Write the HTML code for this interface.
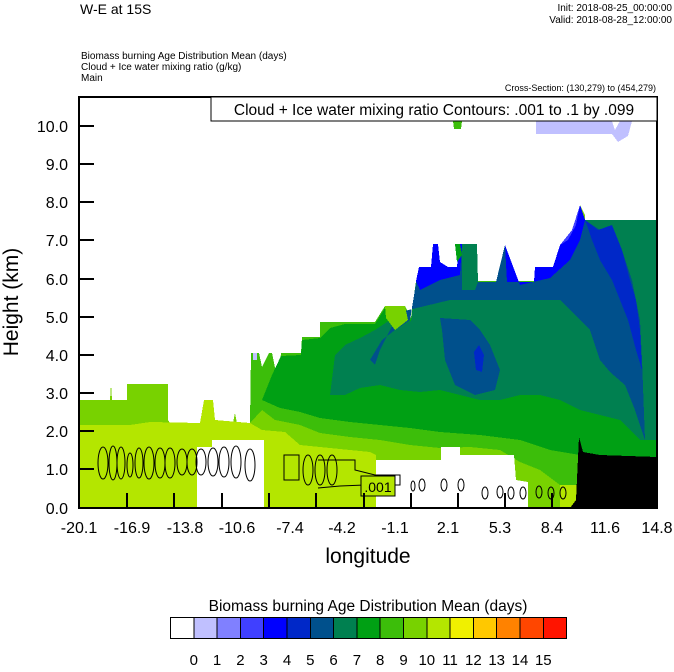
<!DOCTYPE html>
<html><head><meta charset="utf-8"><style>
body{margin:0;background:#fff;width:674px;height:667px;overflow:hidden}
svg{font-family:"Liberation Sans",Arial,sans-serif}
</style></head><body>
<svg width="674" height="667" viewBox="0 0 674 667" xmlns="http://www.w3.org/2000/svg">
<text x="80" y="14" font-size="14">W-E at 15S</text>
<text x="672" y="11" font-size="10" text-anchor="end">Init: 2018-08-25_00:00:00</text>
<text x="672" y="23" font-size="10" text-anchor="end">Valid: 2018-08-28_12:00:00</text>
<text x="81" y="59" font-size="10">Biomass burning Age Distribution Mean   (days)</text>
<text x="81" y="70" font-size="10">Cloud + Ice water mixing ratio   (g/kg)</text>
<text x="81" y="81" font-size="10">Main</text>
<text x="656" y="91" font-size="9" text-anchor="end">Cross-Section: (130,279) to (454,279)</text>

<g shape-rendering="crispEdges">
<polygon fill="#78d200" points="79,400 110,400 111,384 112,400 127,400 127,384 168,384 168,420 170,423 204,423 204,400 213,400 215,420 233,423 235,413 237,423 250,423 251,353 259,353 262,367 269,353 272,353 278,382 281,353 301,353 302,337 320,337 320,322 335,322 336,330 341,322 375,322 385,306 405,306 411,318 416,281 419,267 431,267 433,244 438,244 440,262 448,267 457,267 459,244 477,244 478,282 496,282 505,245 507,282 534,282 535,267 553,267 560,245 572,230 580,205 585,215 585,220 657,220 657,508 79,508"/>
<polygon fill="#b4e600" points="79,425 130,425 150,422 200,423 204,400 213,400 215,420 250,423 262,430 285,432 300,445 330,448 370,452 376,455 376,508 79,508"/>
<polygon fill="#3cbe0a" points="250,423 251,353 259,353 262,367 269,353 272,353 278,382 281,353 301,353 302,337 320,337 320,322 375,322 385,306 405,306 411,318 416,281 657,281 657,508 600,508 580,500 560,485 540,470 520,462 500,450 470,447 440,448 410,445 380,440 350,437 320,433 300,425 275,420 262,410"/>
<polygon fill="#00a014" points="262,400 272,375 281,356 301,355 302,340 320,338 330,328 345,324 375,324 385,308 405,308 411,320 416,283 657,283 657,465 620,470 600,462 580,455 550,450 520,440 480,435 440,432 410,428 380,425 350,422 320,418 300,412 280,408"/>
<polygon fill="#008050" points="330,395 335,355 345,345 360,338 375,330 390,320 405,315 411,322 416,283 419,267 431,267 433,244 438,244 440,262 448,267 457,267 459,244 477,244 478,282 496,282 505,245 507,282 534,282 535,267 553,267 560,245 572,230 580,205 585,220 657,220 657,440 640,440 620,420 600,415 580,410 560,400 540,395 520,395 500,400 480,400 460,395 440,390 420,392 400,390 380,385 360,388 345,395"/>
<polygon fill="#00508c" points="370,360 382,340 395,330 410,320 416,283 419,267 431,267 433,244 438,244 440,262 448,267 457,267 459,244 462,244 462,290 475,290 478,282 496,282 505,245 507,282 534,282 535,267 553,267 560,245 572,230 580,205 585,220 600,230 612,230 622,250 632,280 640,320 642,360 645,440 635,410 625,385 610,372 600,360 590,330 560,300 510,300 450,300 400,312 390,330 380,350 375,365"/>
<polygon fill="#008050" points="420,322 440,312 470,314 495,314 500,330 498,350 480,360 460,355 445,345 425,340"/>
<polygon fill="#00508c" points="440,318 470,320 480,330 490,345 500,370 495,390 475,395 455,385 445,360 442,330"/>
<polygon fill="#0028c8" points="474,352 479,345 484,355 482,372 476,370"/>
<polygon fill="#0028c8" points="580,205 585,220 598,230 612,225 622,250 630,280 636,300 640,330 642,370 636,350 628,320 620,300 612,280 600,260 592,240"/>
<polygon fill="#0000ff" points="416,281 419,267 431,267 433,244 438,244 440,262 448,267 457,267 459,244 462,244 460,275 440,280 420,290"/>
<polygon fill="#0000ff" points="505,245 507,282 534,282 535,267 553,267 560,245 572,230 580,205 585,220 580,240 570,260 550,278 520,285"/>
<polygon fill="#4040ff" points="560,245 572,230 580,205 576,225 568,240"/>
<polygon fill="#c0c0ff" points="253,353 257,353 257,360 253,360"/>
<polygon fill="#00a014" points="455,244 460,244 462,255 457,262"/>
<polygon fill="#78d200" points="385,306 405,306 408,320 395,330 386,318"/>
<polygon fill="#c0c0ff" points="536,121 612,121 615,130 620,121 632,121 628,136 618,142 612,134 536,134"/>
<polygon fill="#3cbe0a" points="453,121 462,121 461,129 454,129"/>
<polygon fill="#fff" points="197,447 212,447 212,440 264,440 264,508 197,508"/>
<polygon fill="#fff" points="376,460 441,460 441,447 460,447 460,455 514,455 516,480 528,482 528,508 376,508"/>
<polygon fill="#b4e600" points="264,470 273,470 273,508 264,508"/>
<polygon fill="#b4e600" points="560,485 590,485 600,500 600,508 560,508"/>
<polygon fill="#000" points="570,508 576,500 579,437 583,452 600,455 657,457 657,508"/>
</g>
<g fill="none" stroke="#000" stroke-width="1">
<ellipse cx="103" cy="463" rx="5" ry="16"/><ellipse cx="113" cy="463" rx="4" ry="17"/><ellipse cx="121" cy="463" rx="4" ry="16"/>
<ellipse cx="130" cy="465" rx="3" ry="12"/><ellipse cx="139" cy="463" rx="4" ry="15"/><ellipse cx="149" cy="463" rx="5" ry="16"/>
<ellipse cx="160" cy="463" rx="5" ry="15"/><ellipse cx="170" cy="463" rx="5" ry="15"/><ellipse cx="182" cy="462" rx="5" ry="13"/>
<ellipse cx="192" cy="462" rx="5" ry="13"/><ellipse cx="201" cy="462" rx="5" ry="13"/><ellipse cx="213" cy="462" rx="5" ry="14"/>
<ellipse cx="224" cy="462" rx="5" ry="15"/><ellipse cx="236" cy="462" rx="5" ry="16"/><ellipse cx="250" cy="465" rx="5" ry="16"/>
<rect x="284" y="455" width="15" height="25"/><ellipse cx="308" cy="470" rx="5" ry="15"/><ellipse cx="320" cy="470" rx="5" ry="15"/><ellipse cx="332" cy="470" rx="5" ry="15"/>
<polyline points="318,460 355,460 355,470 375,475 400,475 400,485 365,485 340,486 318,488"/>
<ellipse cx="382" cy="484" rx="2" ry="3"/><ellipse cx="413" cy="486" rx="2" ry="5"/><ellipse cx="422" cy="485" rx="3" ry="6"/>
<ellipse cx="444" cy="485" rx="3" ry="6"/><ellipse cx="461" cy="485" rx="3" ry="6"/><ellipse cx="485" cy="493" rx="3" ry="6"/>
<ellipse cx="500" cy="492" rx="3" ry="6"/><ellipse cx="511" cy="493" rx="3" ry="6"/><ellipse cx="523" cy="493" rx="3" ry="6"/>
<ellipse cx="539" cy="492" rx="3" ry="6"/><ellipse cx="551" cy="493" rx="3" ry="6"/><ellipse cx="563" cy="493" rx="3" ry="6"/>
<rect x="578" y="486" width="32" height="13"/>
</g>
<rect x="361" y="476" width="34" height="20" fill="#b4e600" stroke="#000"/>
<text x="378" y="492" font-size="14" text-anchor="middle">.001</text>

<rect x="79" y="97" width="578" height="411" fill="none" stroke="#000" stroke-width="2"/>
<rect x="211" y="97" width="446" height="24" fill="#fff" stroke="#000" stroke-width="1"/>
<text x="434" y="115" font-size="15.5" text-anchor="middle">Cloud + Ice water mixing ratio Contours: .001 to .1 by .099</text>
<g stroke="#000" stroke-width="2">
<line x1="79" y1="126" x2="94" y2="126"/><line x1="79" y1="164" x2="94" y2="164"/><line x1="79" y1="202" x2="94" y2="202"/>
<line x1="79" y1="240" x2="94" y2="240"/><line x1="79" y1="279" x2="94" y2="279"/><line x1="79" y1="317" x2="94" y2="317"/>
<line x1="79" y1="355" x2="94" y2="355"/><line x1="79" y1="393" x2="94" y2="393"/><line x1="79" y1="431" x2="94" y2="431"/>
<line x1="79" y1="469" x2="94" y2="469"/>
<line x1="127" y1="508" x2="127" y2="493"/><line x1="174" y1="508" x2="174" y2="493"/><line x1="222" y1="508" x2="222" y2="493"/>
<line x1="269" y1="508" x2="269" y2="493"/><line x1="316" y1="508" x2="316" y2="493"/><line x1="364" y1="508" x2="364" y2="493"/>
<line x1="411" y1="508" x2="411" y2="493"/><line x1="458" y1="508" x2="458" y2="493"/><line x1="505" y1="508" x2="505" y2="493"/>
<line x1="552" y1="508" x2="552" y2="493"/><line x1="600" y1="508" x2="600" y2="493"/>
</g>
<g font-size="16" text-anchor="end">
<text x="68" y="132">10.0</text><text x="68" y="170">9.0</text><text x="68" y="208">8.0</text><text x="68" y="246">7.0</text>
<text x="68" y="285">6.0</text><text x="68" y="323">5.0</text><text x="68" y="361">4.0</text><text x="68" y="399">3.0</text>
<text x="68" y="437">2.0</text><text x="68" y="475">1.0</text><text x="68" y="514">0.0</text>
</g>
<g font-size="16" text-anchor="middle">
<text x="79" y="533">-20.1</text><text x="132" y="533">-16.9</text><text x="185" y="533">-13.8</text><text x="237" y="533">-10.6</text>
<text x="290" y="533">-7.4</text><text x="342" y="533">-4.2</text><text x="395" y="533">-1.1</text><text x="448" y="533">2.1</text>
<text x="500" y="533">5.3</text><text x="552" y="533">8.4</text><text x="605" y="533">11.6</text><text x="657" y="533">14.8</text>
</g>
<text x="368" y="563" font-size="21" text-anchor="middle">longitude</text>
<text transform="translate(18,302) rotate(-90)" font-size="21" text-anchor="middle">Height (km)</text>

<text x="368" y="611" font-size="15.5" text-anchor="middle">Biomass burning Age Distribution Mean  (days)</text>
<g stroke="#000" stroke-width="1" shape-rendering="crispEdges">
<rect x="170.5" y="617.5" width="23.3" height="21" fill="#ffffff"/>
<rect x="193.8" y="617.5" width="23.3" height="21" fill="#c0c0ff"/>
<rect x="217.1" y="617.5" width="23.3" height="21" fill="#8080ff"/>
<rect x="240.4" y="617.5" width="23.3" height="21" fill="#4040ff"/>
<rect x="263.7" y="617.5" width="23.3" height="21" fill="#0000ff"/>
<rect x="287" y="617.5" width="23.3" height="21" fill="#0028c8"/>
<rect x="310.3" y="617.5" width="23.3" height="21" fill="#00508c"/>
<rect x="333.6" y="617.5" width="23.3" height="21" fill="#008050"/>
<rect x="356.9" y="617.5" width="23.3" height="21" fill="#00a014"/>
<rect x="380.2" y="617.5" width="23.3" height="21" fill="#3cbe0a"/>
<rect x="403.5" y="617.5" width="23.3" height="21" fill="#78d200"/>
<rect x="426.8" y="617.5" width="23.3" height="21" fill="#b4e600"/>
<rect x="450.1" y="617.5" width="23.3" height="21" fill="#f0f000"/>
<rect x="473.4" y="617.5" width="23.3" height="21" fill="#ffc800"/>
<rect x="496.7" y="617.5" width="23.3" height="21" fill="#ff8200"/>
<rect x="520" y="617.5" width="23.3" height="21" fill="#ff4600"/>
<rect x="543.3" y="617.5" width="23.3" height="21" fill="#ff1400"/>
</g>
<g font-size="15" text-anchor="middle">
<text x="193.8" y="665">0</text><text x="217.1" y="665">1</text><text x="240.4" y="665">2</text><text x="263.7" y="665">3</text>
<text x="287" y="665">4</text><text x="310.3" y="665">5</text><text x="333.6" y="665">6</text><text x="356.9" y="665">7</text>
<text x="380.2" y="665">8</text><text x="403.5" y="665">9</text><text x="426.8" y="665">10</text><text x="450.1" y="665">11</text>
<text x="473.4" y="665">12</text><text x="496.7" y="665">13</text><text x="520" y="665">14</text><text x="543.3" y="665">15</text>
</g>
</svg>
</body></html>
